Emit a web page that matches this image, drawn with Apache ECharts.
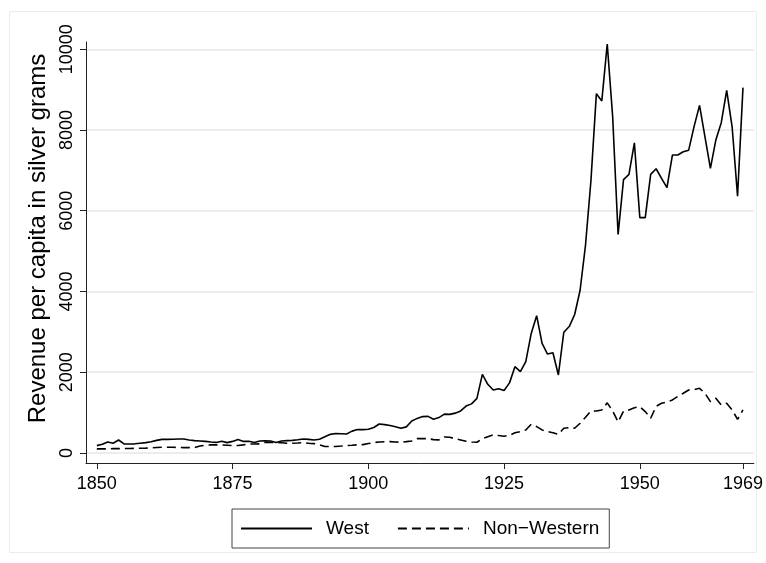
<!DOCTYPE html>
<html>
<head>
<meta charset="utf-8">
<script src="https://cdn.jsdelivr.net/npm/echarts@6/dist/echarts.min.js"></script>
<style>
  html, body { margin: 0; padding: 0; background: #fff; }
  #chart { width: 766px; height: 563px; }
</style>
</head>
<body>
<div id="chart"></div>
<script>
// revenue per capita in silver grams, one value per year from 1850 to 1969
const firstYear = 1850;
const west = [
  180, 215, 270, 240, 320, 225, 220, 225, 240, 255,
  275, 310, 335, 335, 340, 345, 345, 320, 305, 295,
  285, 270, 260, 290, 255, 285, 330, 285, 290, 260,
  295, 300, 295, 260, 295, 305, 310, 325, 345, 335,
  320, 340, 400, 460, 480, 475, 470, 540, 580, 578,
  585, 630, 715, 700, 680, 650, 612, 645, 790, 855,
  900, 905, 835, 875, 960, 955, 985, 1040, 1160, 1215,
  1350, 1945, 1700, 1560, 1590, 1545, 1735, 2136, 2012, 2260,
  2960, 3400, 2715, 2450, 2480, 1930, 2990, 3130, 3430, 4030,
  5150, 6750, 8900, 8720, 10130, 8330, 5410, 6770, 6900, 7680,
  5830, 5830, 6900, 7040, 6800, 6570, 7380, 7380, 7460, 7500,
  8090, 8610, 7830, 7050, 7750, 8180, 8980, 8080, 6360, 9050
];
const nonWestern = [
  100, 100, 100, 105, 105, 108, 110, 112, 115, 118,
  125, 135, 140, 140, 140, 135, 132, 132, 135, 170,
  190, 198, 198, 195, 190, 182, 182, 200, 220, 222,
  225, 262, 260, 255, 250, 240, 238, 245, 256, 240,
  231, 200, 157, 157, 160, 170, 181, 190, 200, 206,
  231, 255, 272, 278, 280, 270, 264, 280, 297, 355,
  355, 355, 330, 322, 396, 388, 350, 322, 290, 272,
  264, 355, 400, 445, 430, 412, 437, 500, 528, 569,
  709, 652, 569, 528, 500, 460, 610, 627, 610, 734,
  883, 1040, 1040, 1064, 1240, 1040, 765, 1035, 1064, 1120,
  1146, 1023, 858, 1155, 1229, 1260, 1312, 1400, 1477, 1559,
  1570, 1600, 1477, 1270, 1353, 1188, 1229, 1064, 833, 1064
];
const xTicks = [1850, 1875, 1900, 1925, 1950, 1969];
const yTicks = [0, 2000, 4000, 6000, 8000, 10000];

const years = west.map((_, i) => firstYear + i);
const font = '"Liberation Sans", Arial, Helvetica, sans-serif';

const chart = echarts.init(document.getElementById('chart'));
chart.setOption({
  animation: false,
  textStyle: { fontFamily: font, color: '#000' },
  graphic: [{
    type: 'rect',
    shape: { x: 9.5, y: 11.5, width: 747, height: 541 },
    style: { fill: 'none', stroke: '#ececec', lineWidth: 1 },
    silent: true
  }],
  grid: { left: 86, right: 11, top: 42, bottom: 100 },
  xAxis: {
    type: 'value',
    min: 1848,
    max: 1971,
    axisLine: { onZero: false, lineStyle: { color: '#222', width: 1 } },
    axisTick: { customValues: xTicks, length: 6, lineStyle: { color: '#222' } },
    axisLabel: {
      customValues: xTicks, margin: 12,
      formatter: v => String(v),
      fontSize: 18, color: '#000', fontFamily: font
    },
    splitLine: { show: false }
  },
  yAxis: {
    type: 'value',
    min: -250,
    max: 10180,
    name: 'Revenue per capita in silver grams',
    nameLocation: 'middle',
    nameGap: 31,
    nameTextStyle: { fontSize: 24, color: '#000', fontFamily: font, padding: [0, 0, 0, 28] },
    axisLine: { show: true, onZero: false, lineStyle: { color: '#222', width: 1 } },
    axisTick: { show: true, customValues: yTicks, length: 6, lineStyle: { color: '#222' } },
    axisLabel: {
      customValues: yTicks, rotate: 90, margin: 10,
      formatter: v => String(v),
      fontSize: 18, color: '#000', fontFamily: font
    },
    splitLine: { show: true, lineStyle: { color: '#e6e6e6', width: 1.5 } }
  },
  legend: {
    left: 232,
    top: 509,
    orient: 'horizontal',
    itemWidth: 71,
    itemHeight: 10,
    itemGap: 28,
    padding: [10, 10, 10, 8],
    borderColor: '#444',
    borderWidth: 1,
    itemStyle: { opacity: 0 },
    textStyle: { fontSize: 19, color: '#000', fontFamily: font, padding: [0, 0, 0, 9] },
    data: ['West', 'Non\u2212Western']
  },
  series: [
    {
      name: 'West',
      type: 'line',
      symbol: 'none',
      data: west.map((v, i) => [years[i], v]),
      lineStyle: { color: '#000', width: 1.6 },
      itemStyle: { color: '#000' }
    },
    {
      name: 'Non\u2212Western',
      type: 'line',
      symbol: 'none',
      data: nonWestern.map((v, i) => [years[i], v]),
      lineStyle: { color: '#000', width: 1.6, type: [9, 5] },
      itemStyle: { color: '#000' }
    }
  ]
});
</script>
</body>
</html>
